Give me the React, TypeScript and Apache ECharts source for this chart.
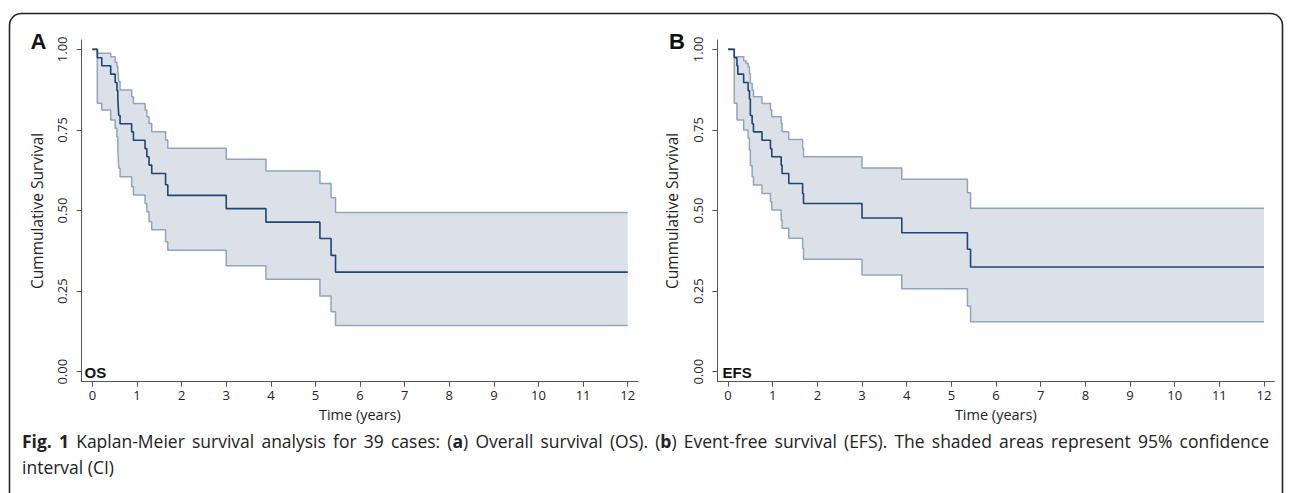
import React, { useEffect, useRef } from "react";
import * as echarts from "echarts";

// ---- Overall survival (OS), panel A ----
const OS_TIME = [0, 0.11, 0.21, 0.41, 0.51, 0.55, 0.57, 0.58, 0.59, 0.62, 0.88, 0.92, 1.18, 1.22, 1.27, 1.33, 1.64, 1.69, 3.0, 3.89, 5.1, 5.35, 5.45, 12];
const OS_SURV = [1, 0.974, 0.949, 0.923, 0.897, 0.872, 0.846, 0.821, 0.795, 0.769, 0.744, 0.718, 0.692, 0.667, 0.641, 0.615, 0.58, 0.547, 0.506, 0.464, 0.413, 0.361, 0.309, 0.309];
const OS_UPPER = [1, 0.988, 0.988, 0.977, 0.96, 0.946, 0.935, 0.92, 0.9, 0.874, 0.853, 0.832, 0.812, 0.791, 0.77, 0.744, 0.719, 0.693, 0.659, 0.623, 0.584, 0.54, 0.494, 0.494];
const OS_LOWER = [1, 0.833, 0.812, 0.781, 0.755, 0.729, 0.688, 0.66, 0.631, 0.605, 0.574, 0.548, 0.522, 0.496, 0.465, 0.44, 0.403, 0.377, 0.329, 0.287, 0.235, 0.186, 0.143, 0.143];

// ---- Event-free survival (EFS), panel B ----
const EFS_TIME = [0, 0.14, 0.2, 0.22, 0.35, 0.4, 0.45, 0.48, 0.5, 0.54, 0.57, 0.76, 0.95, 0.98, 1.19, 1.21, 1.36, 1.67, 1.69, 3.0, 3.89, 5.36, 5.43, 12];
const EFS_SURV = [1, 0.974, 0.949, 0.923, 0.897, 0.897, 0.872, 0.846, 0.795, 0.769, 0.744, 0.718, 0.692, 0.667, 0.641, 0.615, 0.584, 0.553, 0.522, 0.477, 0.431, 0.38, 0.325, 0.325];
const EFS_UPPER = [1, 0.977, 0.977, 0.977, 0.965, 0.957, 0.946, 0.925, 0.895, 0.874, 0.853, 0.832, 0.812, 0.791, 0.77, 0.744, 0.72, 0.693, 0.667, 0.632, 0.597, 0.555, 0.507, 0.507];
const EFS_LOWER = [1, 0.833, 0.781, 0.781, 0.75, 0.75, 0.724, 0.688, 0.64, 0.605, 0.579, 0.553, 0.527, 0.502, 0.47, 0.445, 0.414, 0.383, 0.349, 0.3, 0.257, 0.204, 0.155, 0.155];

const X_TICKS = [0, 1, 2, 3, 4, 5, 6, 7, 8, 9, 10, 11, 12];
const Y_TICKS = [0, 0.25, 0.5, 0.75, 1];
const PANEL_LETTERS = ["A", "B"];
const PANEL_TAGS = ["OS", "EFS"];
const X_TITLE = "Time (years)";
const Y_TITLE = "Cummulative Survival";
const CAPTION_LINE1 =
  "{b|Fig.} {b|1} Kaplan-Meier survival analysis for 39 cases: ({b|a}) Overall survival (OS). ({b|b}) Event-free survival (EFS). The shaded areas represent 95% confidence";
const CAPTION_LINE2 = "interval (CI)";

const FONT_NAME = "Open Sans";
const FONT = '"Open Sans", "Noto Sans", sans-serif';
const CAP_SIZE = 17.5;
const MEDIAN_COLOR = "#1d4674";
const CI_COLOR = "#8fa5bf";
const FILL_COLOR = "#dce1e8";
const AXIS_COLOR = "#555";
const TEXT_COLOR = "#222";

const pairs = (t: number[], v: number[]) => t.map((x, i) => [x, v[i]]);

// step ("end") vertices of a curve in data space
function stepVertices(t: number[], v: number[]) {
  const pts: number[][] = [];
  for (let i = 0; i < t.length - 1; i++) {
    pts.push([t[i], v[i]], [t[i + 1], v[i]]);
  }
  pts.push([t[t.length - 1], v[v.length - 1]]);
  return pts;
}

// split a word with {b|...} markup into segments
function segments(word: string) {
  const out: { text: string; bold: boolean }[] = [];
  const re = /\{b\|([^}]*)\}/g;
  let last = 0;
  let m: RegExpExecArray | null;
  while ((m = re.exec(word))) {
    if (m.index > last) out.push({ text: word.slice(last, m.index), bold: false });
    out.push({ text: m[1], bold: true });
    last = m.index + m[0].length;
  }
  if (last < word.length) out.push({ text: word.slice(last), bold: false });
  return out;
}

function justifiedLine(text: string, x0: number, x1: number, y: number) {
  const canvas = document.createElement("canvas");
  const ctx = canvas.getContext("2d")!;
  const measure = (s: string, bold: boolean) => {
    ctx.font = `${bold ? "bold " : ""}${CAP_SIZE}px "${FONT_NAME}"`;
    return ctx.measureText(s).width;
  };
  const words = text.split(" ");
  const widths = words.map((w) => segments(w).reduce((a, s) => a + measure(s.text, s.bold), 0));
  const total = widths.reduce((a, b) => a + b, 0);
  const gap = (x1 - x0 - total) / (words.length - 1);
  let x = x0;
  return words.map((w, i) => {
    const el = {
      type: "text", z: 100, x, y, silent: true,
      style: {
        text: w, fontSize: CAP_SIZE, fontFamily: FONT, fill: TEXT_COLOR, align: "left", verticalAlign: "middle",
        rich: { b: { fontWeight: "bold", fontSize: CAP_SIZE, fontFamily: FONT, fill: TEXT_COLOR } },
      },
    };
    x += widths[i] + gap;
    return el;
  });
}

export default function App() {
  const ref = useRef<HTMLDivElement>(null);
  useEffect(() => {
    if (!ref.current) return;
    const chart = echarts.init(ref.current, undefined, { renderer: "svg" });
    const grids = [
      { left: 81.7, top: 40, width: 556.3, height: 341.7 },
      { left: 717.3, top: 40, width: 557, height: 341.7 },
    ];
    const panels = [
      { t: OS_TIME, s: OS_SURV, u: OS_UPPER, l: OS_LOWER },
      { t: EFS_TIME, s: EFS_SURV, u: EFS_UPPER, l: EFS_LOWER },
    ];
    const series: any[] = [];
    panels.forEach((p, i) => {
      const band = stepVertices(p.t, p.u).concat(stepVertices(p.t, p.l).reverse());
      series.push({
        type: "custom", xAxisIndex: i, yAxisIndex: i, silent: true, clip: false,
        data: [[p.t[0], p.s[0]]],
        renderItem: (_params: any, api: any) => ({
          type: "polygon",
          shape: { points: band.map((pt) => api.coord(pt)) },
          style: { fill: FILL_COLOR, stroke: "none" },
        }),
      });
      series.push({
        type: "line", xAxisIndex: i, yAxisIndex: i, step: "end", symbol: "none",
        data: pairs(p.t, p.u),
        lineStyle: { color: CI_COLOR, width: 1.5 },
        silent: true,
      });
      series.push({
        type: "line", xAxisIndex: i, yAxisIndex: i, step: "end", symbol: "none",
        data: pairs(p.t, p.l),
        lineStyle: { color: CI_COLOR, width: 1.5 },
        silent: true,
      });
      series.push({
        type: "line", xAxisIndex: i, yAxisIndex: i, step: "end", symbol: "none",
        data: pairs(p.t, p.s),
        lineStyle: { color: MEDIAN_COLOR, width: 1.6 },
        silent: true,
      });
    });

    const graphics: any[] = [
      {
        type: "rect", z: 100, silent: true,
        shape: { x: 9.5, y: 13.5, width: 1273, height: 520, r: 12 },
        style: { fill: "none", stroke: "#222", lineWidth: 1.6 },
      },
    ];
    PANEL_LETTERS.forEach((L, i) => {
      graphics.push({
        type: "text", z: 100, x: i === 0 ? 38.5 : 677, y: 41,
        style: { text: L, fontSize: 22, fontWeight: "bold", fontFamily: '"Liberation Sans", Arial, sans-serif', fill: "#111", align: "center", verticalAlign: "middle" },
      });
      graphics.push({
        type: "text", z: 100, x: i === 0 ? 84.5 : 722.5, y: 372.5,
        style: { text: PANEL_TAGS[i], fontSize: 15, fontWeight: "bold", fontFamily: '"Liberation Sans", Arial, sans-serif', fill: "#111", align: "left", verticalAlign: "middle" },
      });
    });
    graphics.push(...justifiedLine(CAPTION_LINE1, 22, 1269, 441));
    graphics.push({
      type: "text", z: 100, x: 22, y: 467,
      style: { text: CAPTION_LINE2, fontSize: CAP_SIZE, fontFamily: FONT, fill: TEXT_COLOR, verticalAlign: "middle", align: "left" },
    });

    chart.setOption({
      animation: false,
      grid: grids,
      xAxis: [0, 1].map((i) => ({
        type: "value", gridIndex: i, min: -0.24, max: 12.23, z: 10,
        axisLine: { show: true, onZero: false, lineStyle: { color: AXIS_COLOR, width: 1 } },
        axisTick: { show: true, length: 5, customValues: X_TICKS, lineStyle: { color: AXIS_COLOR } },
        axisLabel: { customValues: X_TICKS, fontSize: 13, color: TEXT_COLOR, margin: 7, fontFamily: FONT },
        splitLine: { show: false },
        name: X_TITLE, nameLocation: "middle", nameGap: 20,
        nameTextStyle: { fontSize: 14.5, color: TEXT_COLOR, fontFamily: FONT },
      })),
      yAxis: [0, 1].map((i) => ({
        type: "value", gridIndex: i, min: -0.031, max: 1.029, z: 10,
        axisLine: { show: true, onZero: false, lineStyle: { color: AXIS_COLOR, width: 1 } },
        axisTick: { show: true, length: 5, customValues: Y_TICKS, lineStyle: { color: AXIS_COLOR } },
        axisLabel: {
          customValues: Y_TICKS, rotate: 90, fontSize: 13, color: TEXT_COLOR, margin: 13, fontFamily: FONT,
          formatter: (v: number) => v.toFixed(2),
        },
        splitLine: { show: false },
        name: Y_TITLE, nameLocation: "middle", nameGap: 37, nameRotate: 90,
        nameTextStyle: { fontSize: 15.5, color: TEXT_COLOR, fontFamily: FONT },
      })),
      series,
      graphic: graphics,
    });
    return () => chart.dispose();
  }, []);
  return (
    <div
      ref={ref}
      style={{ position: "absolute", left: 0, top: 0, width: 1290, height: 493, background: "#fff" }}
    />
  );
}
